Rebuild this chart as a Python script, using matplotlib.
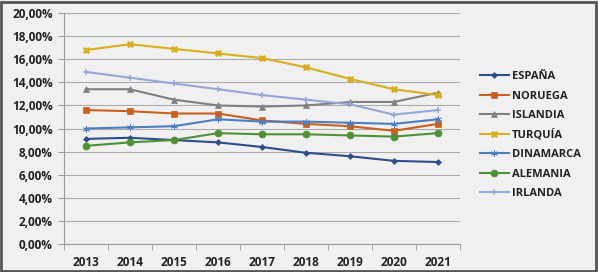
import matplotlib
matplotlib.use("Agg")
import matplotlib.pyplot as plt
from matplotlib.ticker import FuncFormatter, MultipleLocator
from matplotlib.patches import Rectangle

years = ["2013", "2014", "2015", "2016", "2017", "2018", "2019", "2020", "2021"]
espana    = [9.1, 9.2, 9.0, 8.8, 8.4, 7.9, 7.6, 7.2, 7.1]
noruega   = [11.6, 11.5, 11.3, 11.3, 10.7, 10.4, 10.2, 9.8, 10.4]
islandia  = [13.4, 13.4, 12.5, 12.0, 11.9, 12.0, 12.3, 12.3, 13.1]
turquia   = [16.8, 17.3, 16.9, 16.5, 16.1, 15.3, 14.3, 13.4, 12.9]
dinamarca = [10.0, 10.1, 10.2, 10.8, 10.6, 10.6, 10.5, 10.4, 10.8]
alemania  = [8.5, 8.8, 9.0, 9.6, 9.5, 9.5, 9.4, 9.3, 9.6]
irlanda   = [14.9, 14.4, 13.9, 13.4, 12.9, 12.5, 12.1, 11.2, 11.6]

series = [
    ("ESPAÑA", espana, "#2e4d8c", "D", 3),
    ("NORUEGA", noruega, "#cc5f1e", "s", 4.8),
    ("ISLANDIA", islandia, "#808080", "^", 5),
    ("TURQUÍA", turquia, "#d9ae1c", "X", 5),
    ("DINAMARCA", dinamarca, "#4b7fbf", (6, 2, 0), 5),
    ("ALEMANIA", alemania, "#4f9236", "o", 5),
    ("IRLANDA", irlanda, "#95a7d9", "+", 5),
]

plt.rcParams['font.family'] = ['Open Sans', 'DejaVu Sans']

fig = plt.figure(figsize=(5.98, 2.72), dpi=100)
fig.patch.set_facecolor("#f0f0f0")
ax = fig.add_axes([0.107, 0.103, 0.662, 0.849])
ax.set_facecolor("#f0f0f0")

x = list(range(len(years)))
handles = []
for name, vals, col, mk, ms in series:
    h, = ax.plot(x, vals, color=col, lw=1.5, marker=mk, markersize=ms,
                 markeredgewidth=1.1 if mk == "+" else 0.5, markeredgecolor=col,
                 markerfacecolor=col, label=name)
    handles.append(h)

ax.set_xlim(-0.5, len(years) - 0.5)
ax.set_ylim(0, 20)
ax.yaxis.set_major_locator(MultipleLocator(2))
ax.yaxis.set_major_formatter(FuncFormatter(lambda v, p: f"{v:.2f}%".replace(".", ",")))
ax.set_xticks(x)
ax.set_xticklabels(years)
ax.set_xticks([i - 0.5 for i in range(len(years) + 1)], minor=True)
ax.grid(axis="y", color="#ababab", lw=0.8)
ax.set_axisbelow(True)
for s in ["top", "right"]:
    ax.spines[s].set_visible(False)
ax.spines["left"].set_color("#999999")
ax.spines["bottom"].set_color("#999999")
ax.tick_params(axis="x", which="major", length=0, pad=9, labelsize=8.5, colors="#222222")
ax.tick_params(axis="x", which="minor", length=4, color="#999999", direction="out")
ax.tick_params(axis="y", length=4, color="#999999", pad=4, labelsize=8.5, colors="#222222")
for lab in ax.get_xticklabels() + ax.get_yticklabels():
    lab.set_fontweight("bold")

leg = fig.legend(handles=handles, loc="upper left", bbox_to_anchor=(0.795, 0.755),
                 frameon=False, fontsize=8, handlelength=2.6, handletextpad=0.3,
                 labelspacing=0.76, borderaxespad=0)
for t in leg.get_texts():
    t.set_fontweight("bold")
    t.set_color("#222222")

fig.add_artist(Rectangle((0.002, 0.004), 0.994, 0.99, transform=fig.transFigure,
                         fill=False, edgecolor="#555555", lw=2))

fig.savefig("out.png", dpi=100, facecolor=fig.get_facecolor())
